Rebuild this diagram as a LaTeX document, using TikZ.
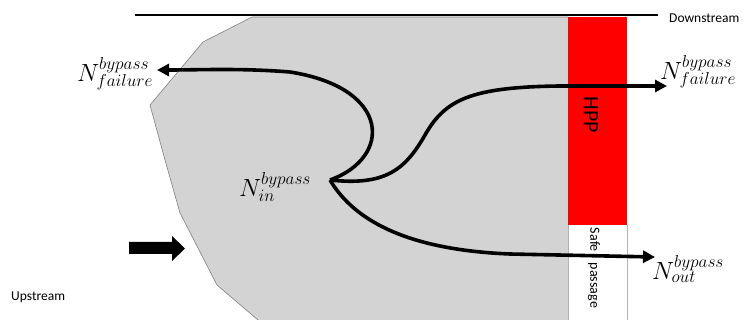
\documentclass[tikz,border=0pt]{standalone}
\usepackage{fontspec}
\setmainfont{Carlito}
\usetikzlibrary{arrows.meta}
\definecolor{regiongray}{RGB}{211,211,211}
\definecolor{edgegray}{RGB}{128,128,128}
\definecolor{hppred}{RGB}{255,0,0}
\definecolor{boxedge}{RGB}{170,180,190}
\tikzset{
  flow/.style={line width=3.6pt, -{Triangle[length=12pt,width=12pt]}},
  lbl/.style={font=\fontsize{23}{26}\selectfont, inner sep=0pt},
  smalltxt/.style={font=\fontsize{13.5}{15}\selectfont, inner sep=0pt},
}
\begin{document}
\begin{tikzpicture}[x=1pt,y=-1pt]
\useasboundingbox (0,0) rectangle (747,320);
% reservoir region
\fill[regiongray] (252,17) -- (568,17) -- (568,320) -- (258,320) -- (217,285) -- (180,213) -- (165,160) -- (150,105) -- (203,42) -- cycle;
\draw[edgegray, line width=0.6pt] (568,17) -- (252,17) -- (203,42) -- (150,105) -- (165,160) -- (180,213) -- (217,285) -- (258,320);
% top line
\draw[line width=2pt] (135,15) -- (658,15);
\node[smalltxt, anchor=west] (down) at (669,18) {Downstream};
\node[smalltxt, anchor=west] (up) at (11,297) {Upstream};
% HPP
\fill[hppred] (568,17) rectangle (627,225);
\node[font=\fontsize{22}{24}\selectfont, rotate=-90, inner sep=0pt] (hpp) at (591,115) {HPP};
% safe passage
\draw[boxedge, fill=white, line width=0.6pt] (568,225) -- (568,321) (627,225) -- (627,321);
\node[font=\fontsize{14}{16}\selectfont, rotate=-90, inner sep=0pt] (safe) at (594,268) {Safe\hspace{11pt}passage};
% flow arrow
\fill (129,242) -- (172,242) -- (172,236) -- (185,248.5) -- (172,261) -- (172,254) -- (129,254) -- cycle;
% labels
\node[lbl] (nin) at (275,187) {$N^{bypass}_{in}$};
\node[lbl] (nfl) at (115,74) {$N^{bypass}_{failure}$};
\node[lbl] (nfr) at (698,72) {$N^{bypass}_{failure}$};
\node[lbl] (nout) at (688,269) {$N^{bypass}_{out}$};
\coordinate (src) at (330,180);
\coordinate (tipl) at (157,70);
\coordinate (tipr) at (667,86);
\coordinate (tipo) at (655,257);
% connectors
\draw[flow] (src) .. controls (392,158) and (392,88) .. (290,72) .. controls (240,68) and (200,70) .. (tipl);
\draw[flow] (src) .. controls (385,186) and (405,170) .. (425,135) .. controls (445,100) and (470,87) .. (560,86) -- (tipr);
\draw[flow] (src) .. controls (355,222) and (410,250) .. (510,254) -- (tipo);
\end{tikzpicture}
\end{document}
